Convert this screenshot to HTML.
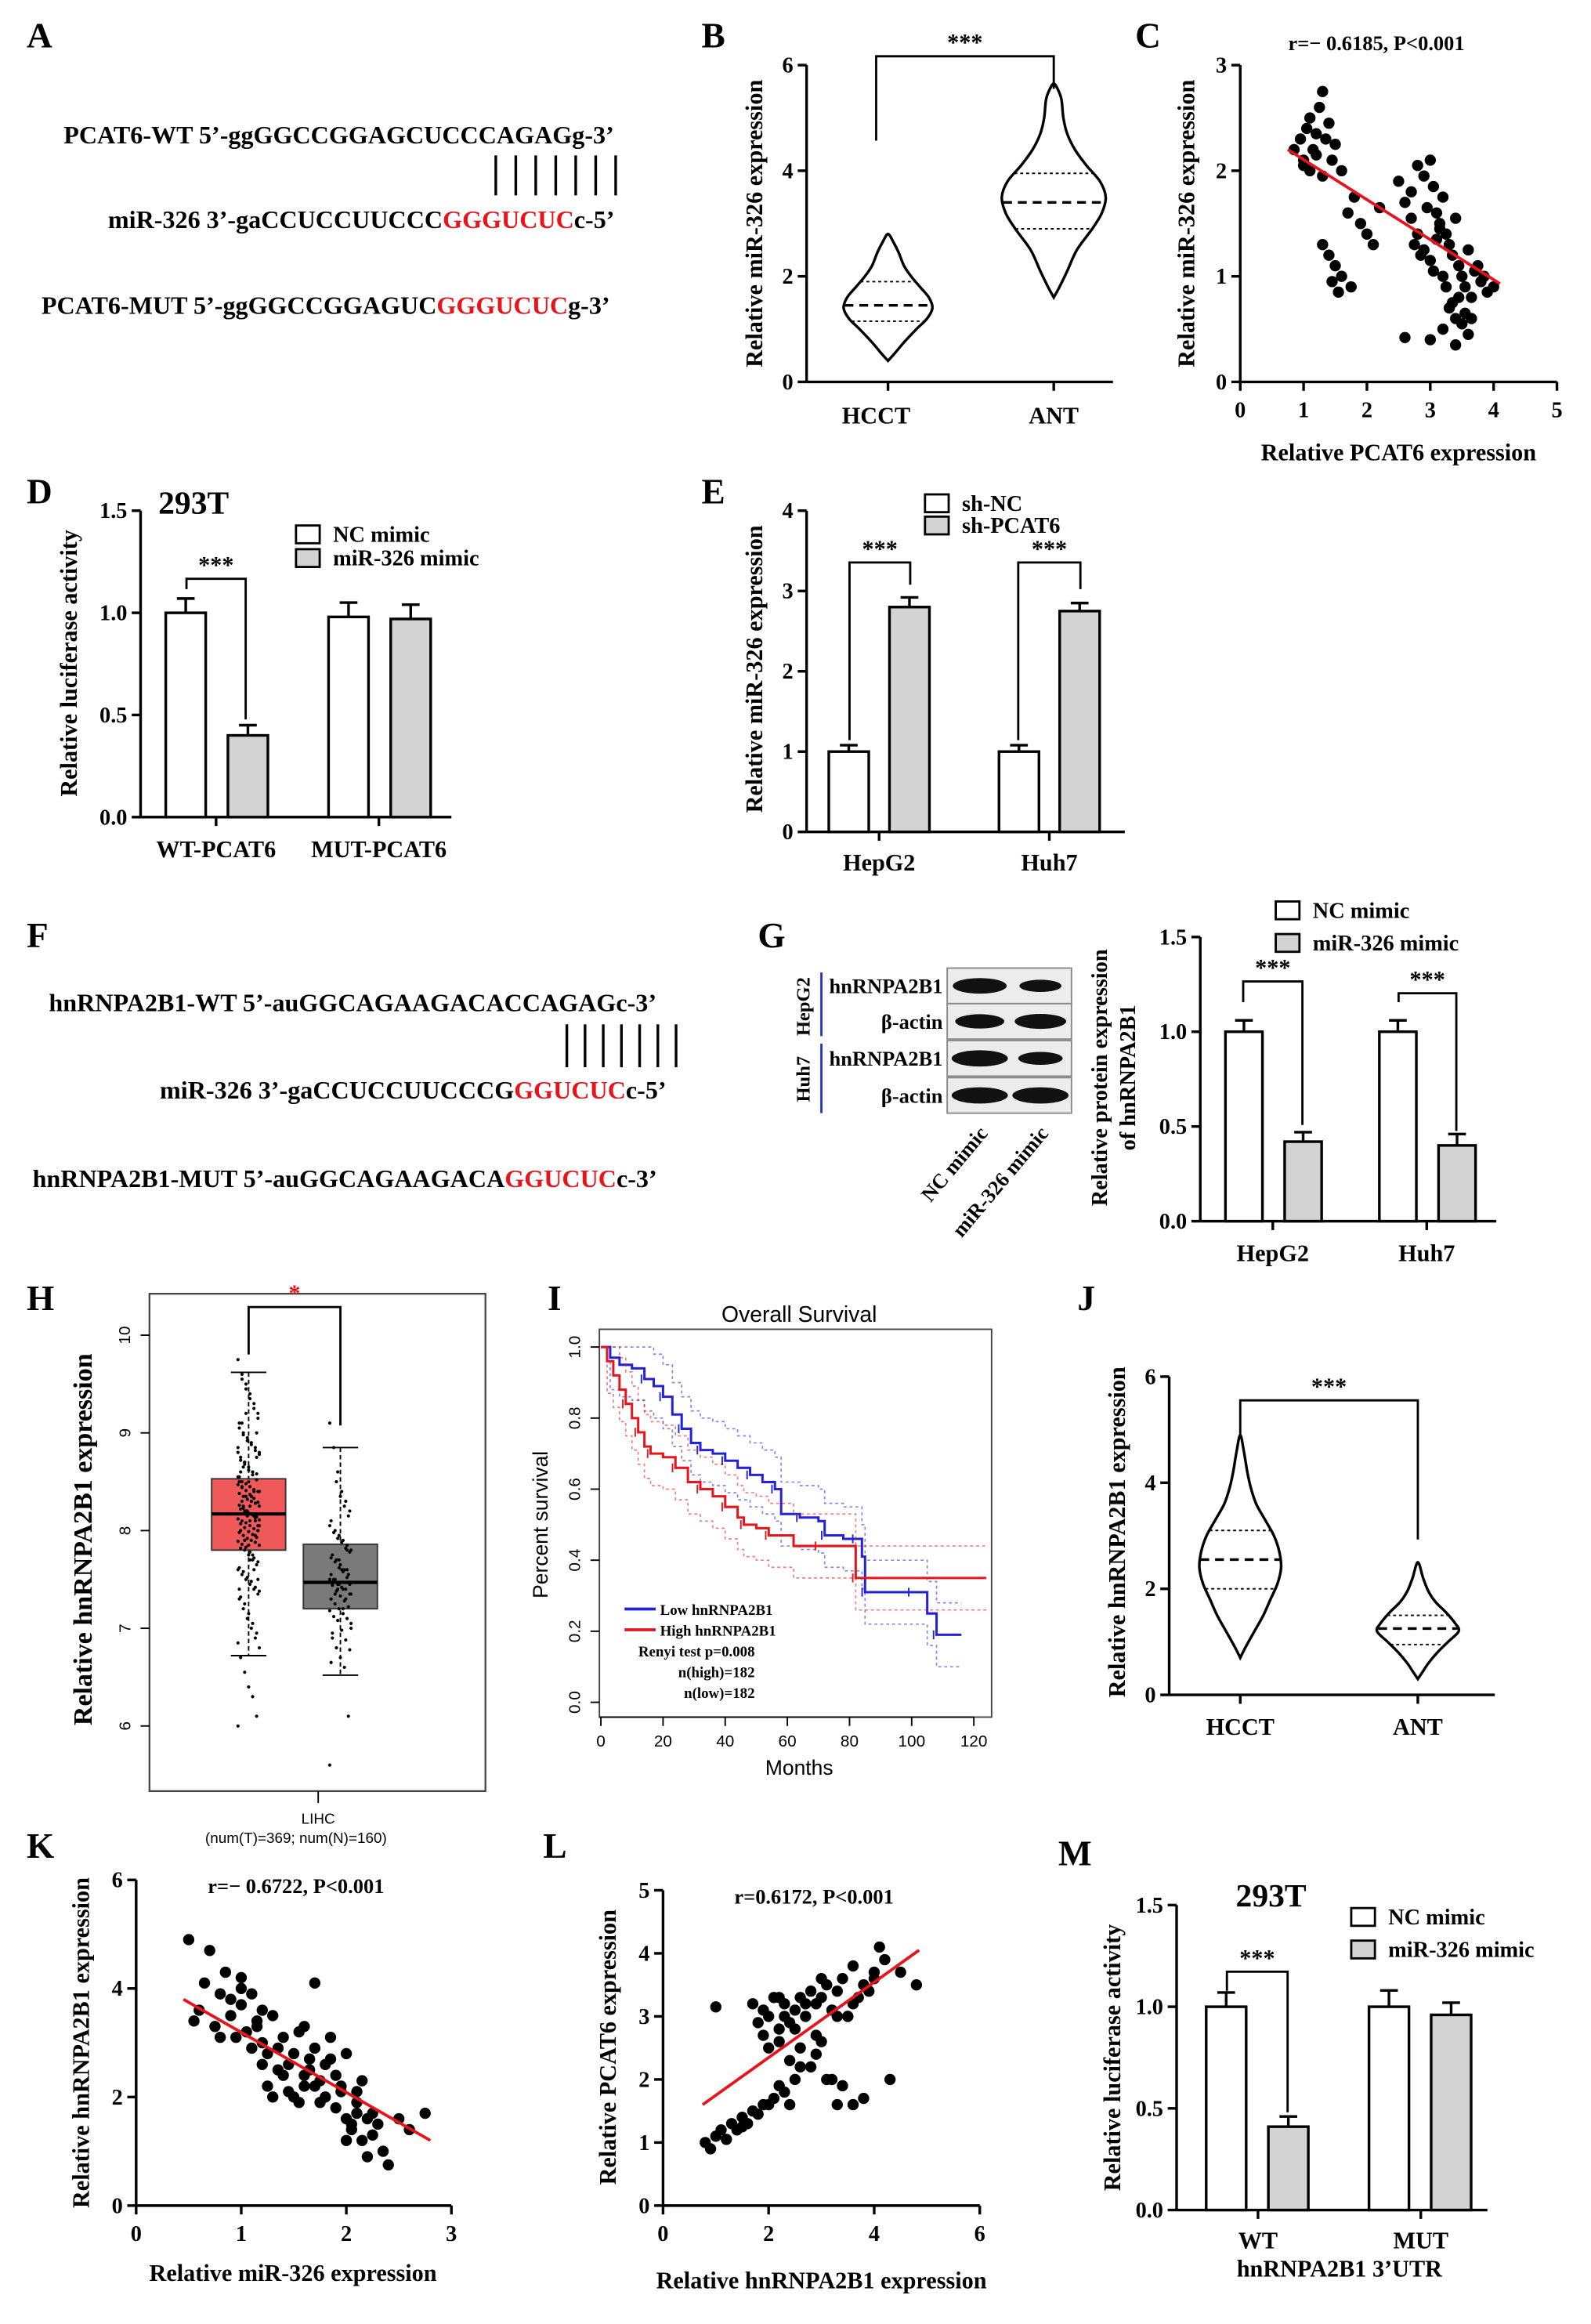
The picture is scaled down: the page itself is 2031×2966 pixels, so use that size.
<!DOCTYPE html>
<html><head><meta charset="utf-8"><style>
html,body{margin:0;padding:0;background:#fff;}
svg{display:block;font-family:"Liberation Serif",serif;}
</style></head><body>
<svg id="fig" width="2031" height="2966" viewBox="0 0 1075 1570" preserveAspectRatio="none" xmlns="http://www.w3.org/2000/svg"></svg>
<script>
// ---------- DATA ----------
const bHCCT=[[0.4,0],[0.55,4],[0.75,9],[1.0,16],[1.2,22],[1.4,25],[1.6,23],[1.8,18],[2.0,13],[2.2,9],[2.45,6],[2.65,3],[2.8,0]];
const bANT=[[1.6,0],[1.8,3],[2.1,7],[2.5,12],[2.9,20],[3.2,25],[3.5,27],[3.8,24],[4.1,17],[4.4,11],[4.7,7],[5.0,5],[5.35,4],[5.55,2],[5.65,0]];
const bStats=[[1.15,1.45,1.9],[2.9,3.4,3.95]];
const cX=[0.85,0.95,1.0,1.05,1.1,1.15,1.2,1.25,1.3,1.0,1.1,1.2,1.3,1.35,1.4,1.45,1.5,1.6,1.3,1.4,1.5,1.6,1.7,1.8,1.9,2.0,2.1,2.2,1.45,1.55,1.75,2.5,2.6,2.7,2.8,2.9,3.0,3.05,3.1,3.15,3.2,3.25,3.3,3.35,3.4,3.45,3.5,3.55,3.6,3.65,3.7,3.8,3.9,4.0,2.8,2.9,3.0,3.1,3.2,3.3,3.4,3.5,3.6,2.7,2.95,3.15,3.35,3.55,3.75,2.6,3.0,3.2,3.4,2.75,3.05,3.25,3.45,3.65,3.85,2.85];
const cY=[2.2,2.3,2.1,2.4,2.5,2.2,2.35,2.6,2.75,2.05,2.0,2.15,1.95,2.3,2.45,2.1,2.25,2.0,1.3,1.2,1.1,1.0,1.6,1.75,1.5,1.4,1.3,1.65,0.95,0.85,0.9,1.9,1.7,1.8,2.05,1.95,2.1,1.85,1.6,1.5,1.75,1.4,1.3,1.2,1.55,1.1,1.0,0.9,1.25,0.8,1.05,0.95,0.85,0.9,1.4,1.25,1.15,1.35,1.0,0.7,0.6,0.55,0.45,1.55,1.65,1.45,0.75,0.65,1.1,0.42,0.4,0.5,0.35,1.3,1.05,0.9,0.8,0.6,1.0,1.2];
const cFit=[0.75,2.2,4.1,0.93];
const dCats=["WT-PCAT6","MUT-PCAT6"];
const dNC=[1.0,0.98], dNCerr=[0.07,0.07], dMi=[0.4,0.97], dMierr=[0.05,0.07];
const eCats=["HepG2","Huh7"];
const eNC=[1.0,1.0], eNCerr=[0.08,0.08], eSh=[2.8,2.75], eSherr=[0.12,0.1];
const gCats=["HepG2","Huh7"];
const gNC=[1.0,1.0], gNCerr=[0.06,0.06], gMi=[0.42,0.4], gMierr=[0.05,0.06];
const hTumor={lo:6.72,q1:7.8,med:8.17,q3:8.53,hi:9.62};
const hNormal={lo:6.52,q1:7.2,med:7.47,q3:7.86,hi:8.85};
const hTumorPts=[9.75,9.6,9.5,9.4,9.3,9.2,9.1,9.0,8.95,8.9,8.85,8.8,8.75,8.7,8.65,8.6,8.58,8.55,8.5,8.48,8.45,8.42,8.4,8.38,8.35,8.32,8.3,8.28,8.25,8.22,8.2,8.18,8.16,8.14,8.12,8.1,8.08,8.05,8.02,8.0,7.98,7.95,7.92,7.9,7.88,7.85,7.82,7.8,7.75,7.7,7.65,7.6,7.55,7.5,7.45,7.4,7.35,7.3,7.2,7.1,7.0,6.9,6.8,6.7,6.55,6.4,6.3,6.1,6.0,8.3,8.2,8.1,8.4,8.0,8.5,8.25,8.15,8.35,7.95,8.05,8.6,8.7,7.85,7.75,9.0,8.8,
9.55,9.45,9.35,9.25,9.15,9.05,8.98,8.92,8.88,8.82,8.78,8.72,8.68,8.62,8.57,8.52,8.47,8.44,8.41,8.37,8.33,8.29,8.26,8.23,8.19,8.17,8.13,8.11,8.07,8.03,7.99,7.96,7.93,7.89,7.86,7.83,7.78,7.72,7.68,7.62,7.58,7.52,7.48,7.42,7.38,7.32,7.25,7.15,7.05,6.95,6.85,8.45,8.35,8.25,8.15,8.05,8.55,8.65,8.2,8.3,8.1,8.4,8.0,7.9,8.5,8.6,8.75,8.85,9.1,9.2,7.7,7.6,7.5,7.4];
const hNormalPts=[9.1,8.85,8.6,8.4,8.3,8.2,8.1,8.0,7.95,7.9,7.85,7.8,7.75,7.7,7.65,7.6,7.55,7.5,7.48,7.45,7.42,7.4,7.35,7.3,7.25,7.2,7.15,7.1,7.0,6.9,6.8,6.7,6.6,6.1,5.6,7.5,7.4,7.6,7.3,7.45,7.55,7.35,7.7,7.2,7.8,7.05,6.95,
8.5,8.35,8.25,8.15,8.05,7.98,7.92,7.88,7.82,7.78,7.72,7.68,7.62,7.58,7.52,7.47,7.44,7.38,7.33,7.28,7.22,7.18,7.12,7.08,6.98,6.88,6.78,6.65,7.5,7.45,7.4,7.6,7.35];
const iLowT=[0,3,6,10,14,17,20,23,26,29,32,36,40,44,48,52,56,58,64,70,72,78,82,84,85,95,100,105,108,116];
const iLowS=[1.0,0.97,0.95,0.94,0.91,0.89,0.86,0.81,0.77,0.73,0.71,0.7,0.68,0.66,0.64,0.62,0.6,0.53,0.52,0.51,0.47,0.46,0.46,0.41,0.31,0.31,0.31,0.25,0.19,0.19];
const iHighT=[0,2,4,6,8,10,12,14,16,20,24,28,32,36,40,44,46,50,54,62,70,78,82,124];
const iHighS=[1.0,0.96,0.92,0.88,0.84,0.8,0.76,0.72,0.7,0.69,0.66,0.62,0.6,0.58,0.55,0.52,0.5,0.49,0.47,0.44,0.44,0.44,0.35,0.35];
const jHCCT=[[0.7,0],[0.9,3],[1.2,8],[1.5,13],[1.8,17],[2.1,21],[2.4,23],[2.7,22],[3.0,19],[3.3,14],[3.6,9],[3.9,6],[4.2,4],[4.6,2],[4.9,0]];
const jANT=[[0.3,0],[0.45,3],[0.6,6],[0.8,11],[1.0,17],[1.2,23],[1.35,21],[1.55,16],[1.75,10],[1.95,6],[2.2,3],[2.5,0]];
const jStats=[[2.0,2.55,3.1],[0.95,1.25,1.5]];
const kX=[0.5,0.6,0.7,0.75,0.8,0.85,0.9,0.95,1.0,1.0,1.05,1.1,1.1,1.15,1.2,1.2,1.25,1.3,1.3,1.35,1.4,1.4,1.45,1.5,1.5,1.55,1.6,1.6,1.65,1.7,1.7,1.75,1.8,1.8,1.85,1.9,1.9,1.95,2.0,2.0,2.05,2.1,2.1,2.15,2.2,2.2,2.25,2.3,2.35,2.4,2.5,2.6,2.75,0.55,0.65,0.9,1.15,1.25,1.35,1.45,1.55,1.65,1.75,1.85,1.95,2.05,2.15,2.25,2.0,2.1,1.2,1.0,0.8,1.6,1.7];
const kY=[4.9,3.6,4.7,3.3,3.9,4.3,3.5,3.1,4.0,3.7,3.2,3.9,2.9,3.4,2.6,3.0,2.2,3.5,2.0,2.9,2.4,3.1,2.1,2.8,2.0,3.2,2.4,2.2,2.7,2.9,4.1,2.3,2.6,2.0,3.1,2.4,1.8,2.2,1.6,2.8,1.4,1.7,2.1,1.2,0.9,1.6,1.3,1.5,1.0,0.75,1.6,1.4,1.7,3.4,4.1,3.8,3.3,2.8,2.5,2.6,1.9,2.5,1.9,2.7,2.1,1.5,2.3,1.7,1.2,1.9,3.6,4.2,3.1,3.3,2.2];
const kFit=[0.45,3.8,2.8,1.2];
const lX=[0.8,0.9,1.0,1.1,1.2,1.3,1.4,1.5,1.6,1.7,1.8,1.9,2.0,2.1,2.2,2.3,2.4,2.5,2.6,1.7,1.8,1.9,2.0,2.1,2.2,2.3,2.4,2.5,2.6,2.7,2.8,2.9,3.0,3.1,3.2,3.3,3.4,3.5,3.6,3.7,3.8,3.9,4.0,4.2,4.5,4.8,2.0,2.2,2.4,2.6,2.8,3.0,3.2,3.4,3.6,3.8,2.9,3.1,3.3,3.5,1.0,1.5,2.5,2.7,3.0,3.3,4.1,4.3,2.2,2.9,3.6,4.0,1.9,2.3];
const lY=[1.0,0.9,1.1,1.2,1.05,1.3,1.2,1.4,1.3,1.5,1.45,1.6,1.6,1.7,1.9,1.8,1.6,2.0,2.2,3.2,2.9,3.1,3.0,3.3,2.6,3.2,2.9,3.1,3.3,3.0,3.4,3.2,3.3,3.5,3.1,3.4,3.6,3.0,3.8,3.3,3.5,3.4,3.6,3.9,3.7,3.5,2.5,2.8,2.3,2.5,2.2,2.6,2.0,1.9,1.6,1.7,2.4,2.0,1.6,3.0,3.15,1.25,2.8,3.2,3.6,3.0,4.1,2.0,3.3,2.7,3.2,3.7,2.7,3.0];
const lFit=[0.75,1.6,4.85,4.05];
const mCats=["WT","MUT"];
const mNC=[1.0,1.0], mNCerr=[0.07,0.08], mMi=[0.41,0.96], mMierr=[0.05,0.06];

// ---------- HELPERS ----------
const S=document.getElementById('fig');const NS='http://www.w3.org/2000/svg';
function mk(tag,attrs,name,parent){const el=document.createElementNS(NS,tag);for(const k in attrs)el.setAttribute(k,attrs[k]);


(parent||S).appendChild(el);return el;}
function txt(x,y,s,name,o){o=o||{};const a={x:x,y:y,'font-size':o.fs||15,'font-weight':o.fw||'bold','text-anchor':o.anchor||'start',fill:o.fill||'#000'};
if(o.font)a['font-family']=o.font;if(o.rot)a.transform='rotate('+o.rot+' '+x+' '+y+')';const t=mk('text',a,name);t.textContent=s;return t;}
function ln(x1,y1,x2,y2,name,o){o=o||{};return mk('line',{x1:x1,y1:y1,x2:x2,y2:y2,stroke:o.c||'#000','stroke-width':o.w||1.8,'stroke-dasharray':o.d||'none'},name);}
function lin(d0,d1,p0,p1){return v=>p0+(v-d0)/(d1-d0)*(p1-p0);}
function yAxis(x,y0,y1,ticks,fmt,name,o){o=o||{};const sy=lin(ticks[0],ticks[ticks.length-1],y0,y1);ln(x,y0,x,y1,name);
ticks.forEach(t=>{ln(x-6,sy(t),x,sy(t),name+'-tick');if(!o.nolabel)txt(x-9,sy(t)+5,fmt(t),name+'-label',{anchor:'end',fs:o.fs||15,fw:'bold'});});return sy;}
function xAxis(y,x0,x1,ticks,fmt,name){const sx=lin(ticks[0],ticks[ticks.length-1],x0,x1);ln(x0,y,x1,y,name);
ticks.forEach(t=>{ln(sx(t),y,sx(t),y+6,name+'-tick');txt(sx(t),y+24,fmt(t),name+'-label',{anchor:'middle',fs:15});});return sx;}
function panel(l,x,y){txt(x,y,l,'panel-label-'+l,{fs:24});}
function smoothPath(pts){let d='M'+pts[0][0]+','+pts[0][1];for(let i=0;i<pts.length-1;i++){const p0=pts[Math.max(0,i-1)],p1=pts[i],p2=pts[i+1],p3=pts[Math.min(pts.length-1,i+2)];
d+='C'+(p1[0]+(p2[0]-p0[0])/6)+','+(p1[1]+(p2[1]-p0[1])/6)+' '+(p2[0]-(p3[0]-p1[0])/6)+','+(p2[1]-(p3[1]-p1[1])/6)+' '+p2[0]+','+p2[1];}return d;}
function violin(cx,sy,prof,stats,name,sc){const pts=[];prof.forEach(p=>pts.push([cx+p[1]*sc,sy(p[0])]));for(let i=prof.length-2;i>=0;i--)pts.push([cx-prof[i][1]*sc,sy(prof[i][0])]);
mk('path',{d:smoothPath(pts)+'Z',fill:'#fff',stroke:'#000','stroke-width':1.8},name);
const wAt=v=>{for(let i=1;i<prof.length;i++){if(v<=prof[i][0]){const f=(v-prof[i-1][0])/(prof[i][0]-prof[i-1][0]);return (prof[i-1][1]+f*(prof[i][1]-prof[i-1][1]))*sc;}}return 0;};
stats.forEach((s,i)=>{const w=wAt(s);ln(cx-w,sy(s),cx+w,sy(s),name+(i==1?'-median':'-quartile'),{w:i==1?1.8:1,d:i==1?'6,4':'2,2'});});}
function barChart(sx0,sy,cats,nc,ncE,mi,miE,fill2,name,bw,gap,groupX){cats.forEach((c,i)=>{const gx=groupX[i];
const h1=sy(nc[i]);mk('rect',{x:gx,y:h1,width:bw,height:sy(0)-h1,fill:'#fff',stroke:'#000','stroke-width':1.8},name+'-bar-nc-'+c);
ln(gx+bw/2,h1,gx+bw/2,sy(nc[i]+ncE[i]),name+'-err');ln(gx+bw/2-6,sy(nc[i]+ncE[i]),gx+bw/2+6,sy(nc[i]+ncE[i]),name+'-err-cap');
const x2=gx+bw+gap,h2=sy(mi[i]);mk('rect',{x:x2,y:h2,width:bw,height:sy(0)-h2,fill:fill2,stroke:'#000','stroke-width':1.8},name+'-bar-treat-'+c);
ln(x2+bw/2,h2,x2+bw/2,sy(mi[i]+miE[i]),name+'-err');ln(x2+bw/2-6,sy(mi[i]+miE[i]),x2+bw/2+6,sy(mi[i]+miE[i]),name+'-err-cap');});}
function legend(x,y,labels,fills,name,dy){labels.forEach((l,i)=>{mk('rect',{x:x,y:y+i*dy-11,width:16,height:12,fill:fills[i],stroke:'#000','stroke-width':1.5},name+'-swatch');txt(x+25,y+i*dy,l,name+'-entry',{fs:15});});}
function bracket(x1,x2,yb,yt,stars,name,col){mk('path',{d:'M'+x1+','+yb[0]+'V'+yt+'H'+x2+'V'+yb[1],fill:'none',stroke:'#000','stroke-width':1.5},name);
txt((x1+x2)/2,yt-4,stars,name+'-stars',{anchor:'middle',fs:16,fill:col||'#000'});}
function scatter(sx,sy,X,Y,fit,name){X.forEach((x,i)=>mk('circle',{cx:sx(x),cy:sy(Y[i]),r:3.8,fill:'#000'},name+'-point'));
ln(sx(fit[0]),sy(fit[1]),sx(fit[2]),sy(fit[3]),name+'-fit-line',{c:'#e8141b',w:2});}
function seq(txtParts,x,y,name){const t=mk('text',{x:x,y:y,'font-size':17,'font-weight':'bold'},name);txtParts.forEach(p=>{const s=document.createElementNS(NS,'tspan');s.textContent=p[0];if(p[1])s.setAttribute('fill','#e8141b');t.appendChild(s);});}

// ---------- A ----------
panel('A',18,32);
seq([["PCAT6-WT  5\u2019-ggGGCCGGAGCUCCCAGAGg-3\u2019"]],43,97,'pcat6-wt-sequence');
for(let i=0;i<7;i++)ln(335+i*13.5,105,335+i*13.5,132,'pairing-line');
seq([["miR-326  3\u2019-gaCCUCCUUCCC"],["GGGUCUC",1],["c-5\u2019"]],73,154,'mir326-sequence');
seq([["PCAT6-MUT  5\u2019-ggGGCCGGAGUC"],["GGGUCUC",1],["g-3\u2019"]],28,212,'pcat6-mut-sequence');
// ---------- B ----------
panel('B',474,32);
{const sy=yAxis(545,258,44,[0,2,4,6],t=>t,'b-y-axis');ln(545,258,752,258,'b-x-axis');
ln(600,258,600,264,'b-tick');ln(712,258,712,264,'b-tick');
txt(592,286,'HCCT','b-x-label',{anchor:'middle',fs:16});txt(712,286,'ANT','b-x-label',{anchor:'middle',fs:16});
violin(600,sy,bHCCT,bStats[0],'b-violin-hcct',1.2);violin(712,sy,bANT,bStats[1],'b-violin-ant',1.3);
bracket(592,712,[95,60],38,'***','b-significance');
txt(515,151,'Relative miR-326 expression','b-y-title',{anchor:'middle',rot:-90,fs:16});}
// ---------- C ----------
panel('C',767,32);
{const sy=yAxis(838,258,44,[0,1,2,3],t=>t,'c-y-axis');const sx=xAxis(258,838,1052,[0,1,2,3,4,5],t=>t,'c-x-axis');
scatter(sx,sy,cX,cY,cFit,'c');txt(930,34,'r=\u2212 0.6185, P<0.001','c-stat',{anchor:'middle',fs:14});
txt(945,311,'Relative PCAT6 expression','c-x-title',{anchor:'middle',fs:16});
txt(807,151,'Relative miR-326 expression','c-y-title',{anchor:'middle',rot:-90,fs:16});}
// ---------- D ----------
panel('D',18,340);txt(107,347,'293T','d-cell-line',{fs:22});
{const sy=yAxis(95,552,345,[0,0.5,1.0,1.5],t=>t.toFixed(1),'d-y-axis');ln(95,552,305,552,'d-x-axis');
barChart(0,sy,dCats,dNC,dNCerr,dMi,dMierr,'#d3d3d3','d',27,15,[112,222]);
ln(146,552,146,558,'d-tick');ln(256,552,256,558,'d-tick');
dCats.forEach((c,i)=>txt([146,256][i],579,c,'d-x-label',{anchor:'middle',fs:16}));
bracket(126,166,[398,486],391,'***','d-significance');
legend(200,366,['NC mimic','miR-326 mimic'],['#fff','#d3d3d3'],'d-legend',16);
txt(52,448,'Relative luciferase activity','d-y-title',{anchor:'middle',rot:-90,fs:16});}
// ---------- E ----------
panel('E',474,340);
{const sy=yAxis(545,562,345,[0,1,2,3,4],t=>t,'e-y-axis');ln(545,562,760,562,'e-x-axis');
barChart(0,sy,eCats,eNC,eNCerr,eSh,eSherr,'#d3d3d3','e',27,14,[560,675]);
ln(594,562,594,568,'e-tick');ln(709,562,709,568,'e-tick');
eCats.forEach((c,i)=>txt([594,709][i],588,c,'e-x-label',{anchor:'middle',fs:16}));
bracket(574,615,[500,395],380,'***','e-significance-hepg2');bracket(688,730,[500,398],380,'***','e-significance-huh7');
legend(625,345,['sh-NC','sh-PCAT6'],['#fff','#d3d3d3'],'e-legend',15);
txt(515,452,'Relative miR-326 expression','e-y-title',{anchor:'middle',rot:-90,fs:16});}
// ---------- F ----------
panel('F',18,640);
seq([["hnRNPA2B1-WT  5\u2019-auGGCAGAAGACACCAGAGc-3\u2019"]],33,683,'hnrnpa2b1-wt-sequence');
for(let i=0;i<7;i++)ln(383+i*12.3,692,383+i*12.3,721,'pairing-line');
seq([["miR-326  3\u2019-gaCCUCCUUCCCG"],["GGUCUC",1],["c-5\u2019"]],108,742,'mir326-sequence-f');
seq([["hnRNPA2B1-MUT  5\u2019-auGGCAGAAGACA"],["GGUCUC",1],["c-3\u2019"]],22,802,'hnrnpa2b1-mut-sequence');
// ---------- G ----------
panel('G',512,640);
{const rows=[[665,'hnRNPA2B1',[0.95,0.7]],[689,'\u03b2-actin',[0.85,0.9]],[714,'hnRNPA2B1',[1.0,0.75]],[739,'\u03b2-actin',[1.0,1.0]]];
rows.forEach((r,i)=>{mk('rect',{x:640,y:r[0]-11,width:84,height:24,fill:'#ececec',stroke:'#888','stroke-width':1},'g-blot-strip');
r[2].forEach((v,j)=>mk('ellipse',{cx:662+j*41,cy:r[0]+1,rx:16*v+3,ry:4.5*v+1,fill:'#111'},'g-blot-band'));
txt(637,r[0]+6,r[1],'g-blot-label',{anchor:'end',fs:14});});
ln(555,657,555,700,'g-hepg2-line',{c:'#2432c8',w:1.5});ln(555,705,555,752,'g-huh7-line',{c:'#2432c8',w:1.5});
txt(547,680,'HepG2','g-hepg2-label',{anchor:'middle',rot:-90,fs:13});txt(547,729,'Huh7','g-huh7-label',{anchor:'middle',rot:-90,fs:13});
txt(668,766,'NC mimic','g-lane-label',{anchor:'end',rot:-50,fs:14});txt(709,766,'miR-326 mimic','g-lane-label',{anchor:'end',rot:-50,fs:14});
const sy=yAxis(811,825,633,[0,0.5,1.0,1.5],t=>t.toFixed(1),'g-y-axis');ln(811,825,1011,825,'g-x-axis');
barChart(0,sy,gCats,gNC,gNCerr,gMi,gMierr,'#d3d3d3','g',25,15,[828,932]);
ln(860,825,860,831,'g-tick');ln(964,825,964,831,'g-tick');
gCats.forEach((c,i)=>txt([860,964][i],852,c,'g-x-label',{anchor:'middle',fs:16}));
bracket(840,880,[677,760],663,'***','g-significance-hepg2');bracket(945,984,[677,764],671,'***','g-significance-huh7');
legend(862,620,['NC mimic','miR-326 mimic'],['#fff','#d3d3d3'],'g-legend',22);
txt(748,728,'Relative protein expression','g-y-title',{anchor:'middle',rot:-90,fs:15});txt(767,728,'of hnRNPA2B1','g-y-title-2',{anchor:'middle',rot:-90,fs:15});}
// ---------- H ----------
panel('H',18,885);
{mk('rect',{x:101,y:874,width:227,height:336,fill:'none',stroke:'#444','stroke-width':1.2},'h-plot-frame');
const sy=lin(6,10,1166,902);
[6,7,8,9,10].forEach(t=>{ln(95,sy(t),101,sy(t),'h-y-tick',{w:1});txt(88,sy(t),String(t),'h-y-label',{anchor:'middle',rot:-90,fs:11,fw:'normal',font:'Liberation Sans'});});
ln(215,1210,215,1218,'h-x-tick',{w:1});
txt(215,1232,'LIHC','h-x-label',{anchor:'middle',fs:10,fw:'normal',font:'Liberation Sans'});
txt(200,1245,'(num(T)=369; num(N)=160)','h-x-sublabel',{anchor:'middle',fs:10,fw:'normal',font:'Liberation Sans'});
[[168,hTumor,'#f0595a','tumor',hTumorPts],[230,hNormal,'#7a7a7a','normal',hNormalPts]].forEach(g=>{const cx=g[0],b=g[1];
ln(cx,sy(b.hi),cx,sy(b.lo),'h-whisker-'+g[3],{d:'3,2',w:1});ln(cx-12,sy(b.hi),cx+12,sy(b.hi),'h-whisker-cap',{w:1});ln(cx-12,sy(b.lo),cx+12,sy(b.lo),'h-whisker-cap',{w:1});
mk('rect',{x:cx-25,y:sy(b.q3),width:50,height:sy(b.q1)-sy(b.q3),fill:g[2],stroke:'#333','stroke-width':1},'h-box-'+g[3]);
ln(cx-25,sy(b.med),cx+25,sy(b.med),'h-median-'+g[3],{w:2.2});
g[4].forEach((v,i)=>mk('circle',{cx:cx+((i*37)%17-8)*0.9,cy:sy(v),r:1.1,fill:'#000'},'h-point-'+g[3]));});
bracket(168,230,[915,963],883,'*','h-significance','#e8141b');
txt(62,1040,'Relative hnRNPA2B1 expression','h-y-title',{anchor:'middle',rot:-90,fs:18});}
// ---------- I ----------
panel('I',370,885);
{mk('rect',{x:405,y:898,width:265,height:262,fill:'none',stroke:'#444','stroke-width':1},'i-plot-frame');
const sy=lin(0,1,1150,910);
[0,0.2,0.4,0.6,0.8,1.0].forEach(t=>{ln(399,sy(t),405,sy(t),'i-y-tick',{w:1});txt(392,sy(t),t.toFixed(1),'i-y-label',{anchor:'middle',rot:-90,fs:11,fw:'normal',font:'Liberation Sans'});});
const sx=lin(0,120,406,658);ln(405,1160,658,1160,'i-x-axis',{w:1});
[0,20,40,60,80,100,120].forEach(t=>{ln(sx(t),1160,sx(t),1166,'i-x-tick',{w:1});txt(sx(t),1180,String(t),'i-x-label',{anchor:'middle',fs:11,fw:'normal',font:'Liberation Sans'});});
txt(540,1199,'Months','i-x-title',{anchor:'middle',fs:14,fw:'normal',font:'Liberation Sans'});
txt(540,893,'Overall Survival','i-title',{anchor:'middle',fs:15,fw:'normal',font:'Liberation Sans'});
txt(370,1030,'Percent survival','i-y-title',{anchor:'middle',rot:-90,fs:14,fw:'normal',font:'Liberation Sans'});
const step=(T,Sv,dy)=>{let d='';T.forEach((t,i)=>{const yv=Math.max(0,Math.min(1,Sv[i]+dy*(i?1:0)+(i?0:0)));d+=(i?'H'+sx(t)+'V':'M'+sx(t)+',')+sy(yv);});return d;};
[[iLowT,iLowS,'#2222dd','low'],[iHighT,iHighS,'#e8141b','high']].forEach(g=>{
mk('path',{d:step(g[0],g[1],0.09),fill:'none',stroke:g[2],'stroke-width':0.9,'stroke-dasharray':'2,2',opacity:0.55},'i-ci-upper-'+g[3]);
mk('path',{d:step(g[0],g[1],-0.09),fill:'none',stroke:g[2],'stroke-width':0.9,'stroke-dasharray':'2,2',opacity:0.55},'i-ci-lower-'+g[3]);
mk('path',{d:step(g[0],g[1],0),fill:'none',stroke:g[2],'stroke-width':1.6},'i-curve-'+g[3]);
g[0].forEach((t,i)=>{if(i>3&&i%2==0){const x=sx(t)-2,y=sy(g[1][i]);ln(x,y-3,x,y+3,'i-censor-'+g[3],{c:g[2],w:1});}});});
ln(422,1087,443,1087,'i-legend-low',{c:'#2222dd',w:2});ln(422,1101,443,1101,'i-legend-high',{c:'#e8141b',w:2});
txt(446,1091,'Low hnRNPA2B1','i-legend-entry',{fs:10});txt(446,1105,'High hnRNPA2B1','i-legend-entry',{fs:10});
txt(510,1119,'Renyi test p=0.008','i-legend-test',{anchor:'end',fs:10});txt(510,1133,'n(high)=182','i-legend-n',{anchor:'end',fs:10});txt(510,1147,'n(low)=182','i-legend-n',{anchor:'end',fs:10});}
// ---------- J ----------
panel('J',728,885);
{const sy=yAxis(790,1145,930,[0,2,4,6],t=>t,'j-y-axis');ln(790,1145,1010,1145,'j-x-axis');
ln(838,1145,838,1151,'j-tick');ln(958,1145,958,1151,'j-tick');
txt(838,1172,'HCCT','j-x-label',{anchor:'middle',fs:16});txt(958,1172,'ANT','j-x-label',{anchor:'middle',fs:16});
violin(838,sy,jHCCT,jStats[0],'j-violin-hcct',1.2);violin(958,sy,jANT,jStats[1],'j-violin-ant',1.2);
bracket(838,958,[970,1040],946,'***','j-significance');
txt(760,1035,'Relative hnRNPA2B1 expression','j-y-title',{anchor:'middle',rot:-90,fs:16});}
// ---------- K ----------
panel('K',18,1255);
{const sy=yAxis(92,1490,1270,[0,2,4,6],t=>t,'k-y-axis');const sx=xAxis(1490,92,305,[0,1,2,3],t=>t,'k-x-axis');
scatter(sx,sy,kX,kY,kFit,'k');txt(200,1279,'r=\u2212 0.6722, P<0.001','k-stat',{anchor:'middle',fs:14});
txt(198,1541,'Relative miR-326 expression','k-x-title',{anchor:'middle',fs:16});
txt(60,1380,'Relative hnRNPA2B1 expression','k-y-title',{anchor:'middle',rot:-90,fs:16});}
// ---------- L ----------
panel('L',367,1255);
{const sy=yAxis(448,1490,1277,[0,1,2,3,4,5],t=>t,'l-y-axis');const sx=xAxis(1490,448,662,[0,2,4,6],t=>t,'l-x-axis');
scatter(sx,sy,lX,lY,lFit,'l');txt(550,1286,'r=0.6172, P<0.001','l-stat',{anchor:'middle',fs:14});
txt(555,1546,'Relative hnRNPA2B1 expression','l-x-title',{anchor:'middle',fs:16});
txt(416,1383,'Relative PCAT6 expression','l-y-title',{anchor:'middle',rot:-90,fs:16});}
// ---------- M ----------
panel('M',715,1260);txt(835,1288,'293T','m-cell-line',{fs:22});
{const sy=yAxis(795,1493,1287,[0,0.5,1.0,1.5],t=>t.toFixed(1),'m-y-axis');ln(795,1493,1005,1493,'m-x-axis');
barChart(0,sy,mCats,mNC,mNCerr,mMi,mMierr,'#d3d3d3','m',27,15,[815,925]);
ln(850,1493,850,1499,'m-tick');ln(960,1493,960,1499,'m-tick');
mCats.forEach((c,i)=>txt([850,960][i],1519,c,'m-x-label',{anchor:'middle',fs:16}));
txt(905,1538,'hnRNPA2B1  3\u2019UTR','m-x-title',{anchor:'middle',fs:16});
bracket(829,870,[1345,1427],1332,'***','m-significance');
legend(913,1300,['NC mimic','miR-326 mimic'],['#fff','#d3d3d3'],'m-legend',22);
txt(757,1390,'Relative luciferase activity','m-y-title',{anchor:'middle',rot:-90,fs:16});}
</script>
</body></html>
